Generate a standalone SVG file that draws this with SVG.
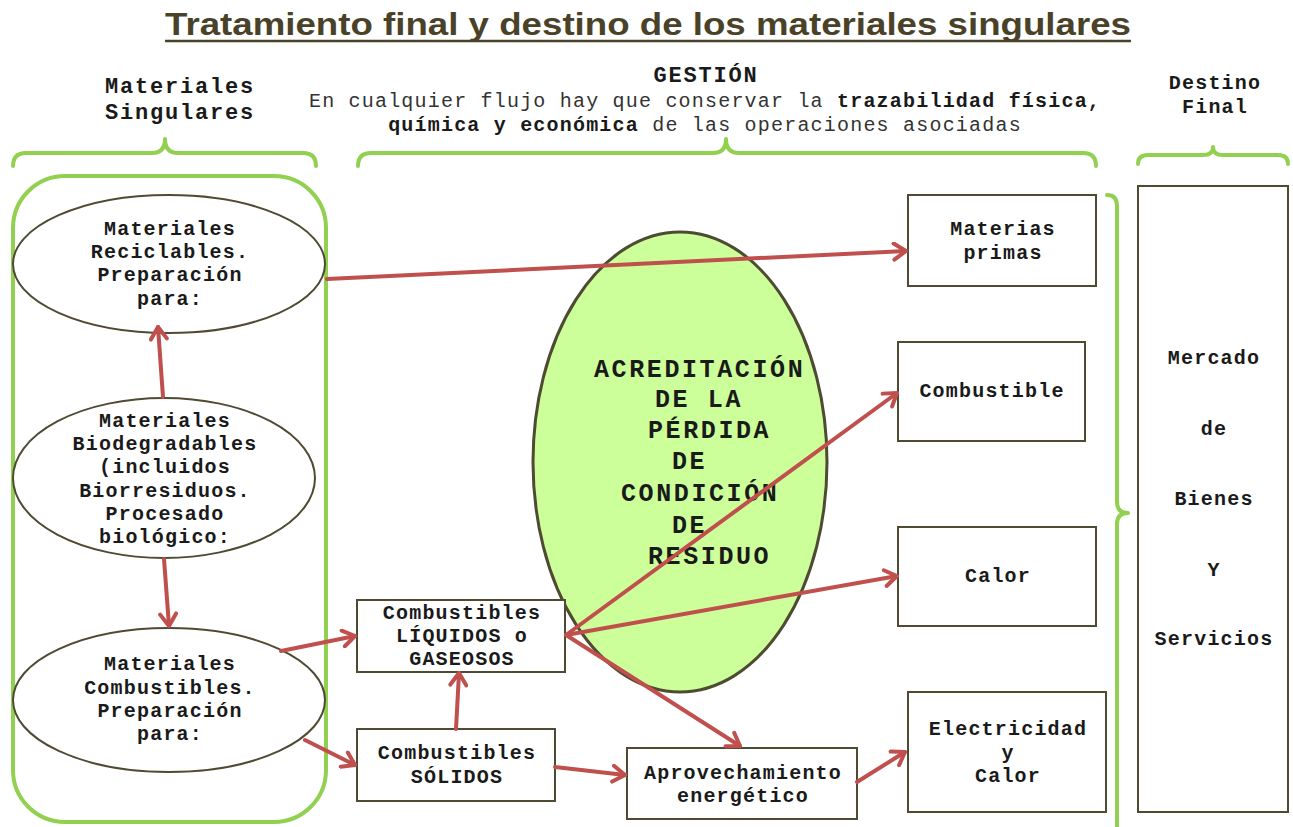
<svg xmlns="http://www.w3.org/2000/svg" width="1293" height="827" viewBox="0 0 1293 827">
<defs>
<style>
.title{font-family:"Liberation Sans",Arial,sans-serif;font-weight:bold;font-size:32px;fill:#4a4228}
.hd{font-family:"Liberation Mono","Courier New",monospace;font-weight:bold;font-size:22px;letter-spacing:1.8px;fill:#1a1a1a;text-anchor:middle}
.t{font-family:"Liberation Mono","Courier New",monospace;font-weight:bold;font-size:20px;letter-spacing:1.2px;fill:#1a1a1a;text-anchor:middle}
.n{font-weight:normal;fill:#333}
.big{font-family:"Liberation Mono","Courier New",monospace;font-weight:bold;font-size:25px;letter-spacing:2.6px;fill:#1a1a1a}
.brace{fill:none;stroke:#92d050;stroke-width:4;stroke-linecap:round;stroke-linejoin:round}
.box{fill:#fff;stroke:#4f4a32;stroke-width:2}
.ell{fill:#fff;stroke:#4f4a32;stroke-width:2}
.arr{fill:none;stroke:#c0504d;stroke-width:4;stroke-linecap:round;marker-end:url(#ah)}
</style>
<marker id="ah" markerUnits="userSpaceOnUse" markerWidth="20" markerHeight="20" viewBox="0 0 20 20" refX="16" refY="10" orient="auto">
<path d="M4,2 L16,10 L4,18" fill="none" stroke="#c0504d" stroke-width="4" stroke-linecap="round" stroke-linejoin="round"/>
</marker>
</defs>
<rect width="1293" height="827" fill="#fff"/>

<g id="title">
<text class="title" x="165" y="35" textLength="966" lengthAdjust="spacingAndGlyphs">Tratamiento final y destino de los materiales singulares</text>
<line x1="165" y1="41" x2="1131" y2="41" stroke="#4a4228" stroke-width="2.5"/>
</g>

<g id="headers">
<text class="hd" x="180" y="93">Materiales</text>
<text class="hd" x="180" y="119">Singulares</text>
<text class="hd" x="706" y="82">GESTIÓN</text>
<text class="t" x="705" y="107"><tspan class="n">En cualquier flujo hay que conservar la </tspan>trazabilidad física,</text>
<text class="t" x="705" y="131">química y económica<tspan class="n"> de las operaciones asociadas</tspan></text>
<text class="t" x="1215" y="89">Destino</text>
<text class="t" x="1215" y="113">Final</text>
</g>

<g id="braces">
<path class="brace" d="M13,166 Q13,153 26,153 L152,153 Q165,153 165,139 Q165,153 178,153 L303,153 Q316,153 316,166"/>
<path class="brace" d="M358,166 Q358,153 371,153 L713,153 Q726,153 726,139 Q726,153 739,153 L1083,153 Q1096,153 1096,166"/>
<path class="brace" d="M1138,164 Q1138,155 1148,155 L1203,155 Q1213,155 1213,147 Q1213,155 1223,155 L1278,155 Q1288,155 1288,164"/>
<path class="brace" d="M1107,195 Q1117,195 1117,206 L1117,502 Q1117,513 1128,513 Q1117,513 1117,524 L1117,830"/>
<rect x="13" y="176" width="313" height="646" rx="52" ry="52" fill="none" stroke="#92d050" stroke-width="4"/>
</g>

<g id="n-reciclables">
<ellipse class="ell" cx="169" cy="264" rx="156" ry="69"/>
<text class="t" x="170" y="235">Materiales</text>
<text class="t" x="170" y="258">Reciclables.</text>
<text class="t" x="170" y="281">Preparación</text>
<text class="t" x="170" y="305">para:</text>
</g>

<g id="n-biodegradables">
<ellipse class="ell" cx="164" cy="478" rx="151" ry="80"/>
<text class="t" x="165" y="427">Materiales</text>
<text class="t" x="165" y="450">Biodegradables</text>
<text class="t" x="165" y="473">(incluidos</text>
<text class="t" x="165" y="497">Biorresiduos.</text>
<text class="t" x="165" y="520">Procesado</text>
<text class="t" x="165" y="543">biológico:</text>
</g>

<g id="n-combustibles">
<ellipse class="ell" cx="169" cy="700" rx="156" ry="72"/>
<text class="t" x="170" y="670">Materiales</text>
<text class="t" x="170" y="694">Combustibles.</text>
<text class="t" x="170" y="717">Preparación</text>
<text class="t" x="170" y="740">para:</text>
</g>

<g id="n-acreditacion">
<ellipse cx="680" cy="462" rx="147" ry="230" fill="#ccff99" stroke="#4f4a32" stroke-width="3"/>
<text class="big" x="594" y="377">ACREDITACIÓN</text>
<text class="big" x="655" y="407">DE LA</text>
<text class="big" x="648" y="438">PÉRDIDA</text>
<text class="big" x="672" y="469">DE</text>
<text class="big" x="621" y="501">CONDICIÓN</text>
<text class="big" x="672" y="533">DE</text>
<text class="big" x="648" y="564">RESIDUO</text>
</g>

<g id="n-liquidos">
<rect class="box" x="357" y="600" width="208" height="72"/>
<text class="t" x="462" y="619">Combustibles</text>
<text class="t" x="462" y="642">LÍQUIDOS o</text>
<text class="t" x="462" y="665">GASEOSOS</text>
</g>

<g id="n-solidos">
<rect class="box" x="357" y="729" width="198" height="72"/>
<text class="t" x="457" y="759">Combustibles</text>
<text class="t" x="457" y="783">SÓLIDOS</text>
</g>

<g id="n-aprovechamiento">
<rect class="box" x="627" y="748" width="230" height="71"/>
<text class="t" x="743" y="779">Aprovechamiento</text>
<text class="t" x="743" y="802">energético</text>
</g>

<g id="n-materias">
<rect class="box" x="908" y="195" width="188" height="91"/>
<text class="t" x="1003" y="235">Materias</text>
<text class="t" x="1003" y="259">primas</text>
</g>

<g id="n-combustible">
<rect class="box" x="898" y="342" width="187" height="99"/>
<text class="t" x="992" y="397">Combustible</text>
</g>

<g id="n-calor">
<rect class="box" x="898" y="527" width="198" height="99"/>
<text class="t" x="998" y="582">Calor</text>
</g>

<g id="n-electricidad">
<rect class="box" x="908" y="692" width="198" height="120"/>
<text class="t" x="1008" y="735">Electricidad</text>
<text class="t" x="1008" y="759">y</text>
<text class="t" x="1008" y="782">Calor</text>
</g>

<g id="n-mercado">
<rect class="box" x="1138" y="186" width="150" height="626"/>
<text class="t" x="1214" y="364">Mercado</text>
<text class="t" x="1214" y="435">de</text>
<text class="t" x="1214" y="505">Bienes</text>
<text class="t" x="1214" y="576">Y</text>
<text class="t" x="1214" y="645">Servicios</text>
</g>

<g id="connectors">
<line class="arr" x1="163" y1="397" x2="158" y2="327"/>
<line class="arr" x1="164" y1="559" x2="169" y2="626"/>
<line class="arr" x1="327" y1="279" x2="906" y2="251"/>
<line class="arr" x1="281" y1="651" x2="355" y2="636"/>
<line class="arr" x1="305" y1="740" x2="355" y2="765"/>
<line class="arr" x1="456" y1="729" x2="459" y2="673"/>
<line class="arr" x1="555" y1="767" x2="625" y2="775"/>
<line class="arr" x1="566" y1="635" x2="897" y2="393"/>
<line class="arr" x1="566" y1="635" x2="897" y2="576"/>
<line class="arr" x1="566" y1="635" x2="740" y2="746"/>
<line class="arr" x1="857" y1="782" x2="905" y2="752"/>
</g>
</svg>
